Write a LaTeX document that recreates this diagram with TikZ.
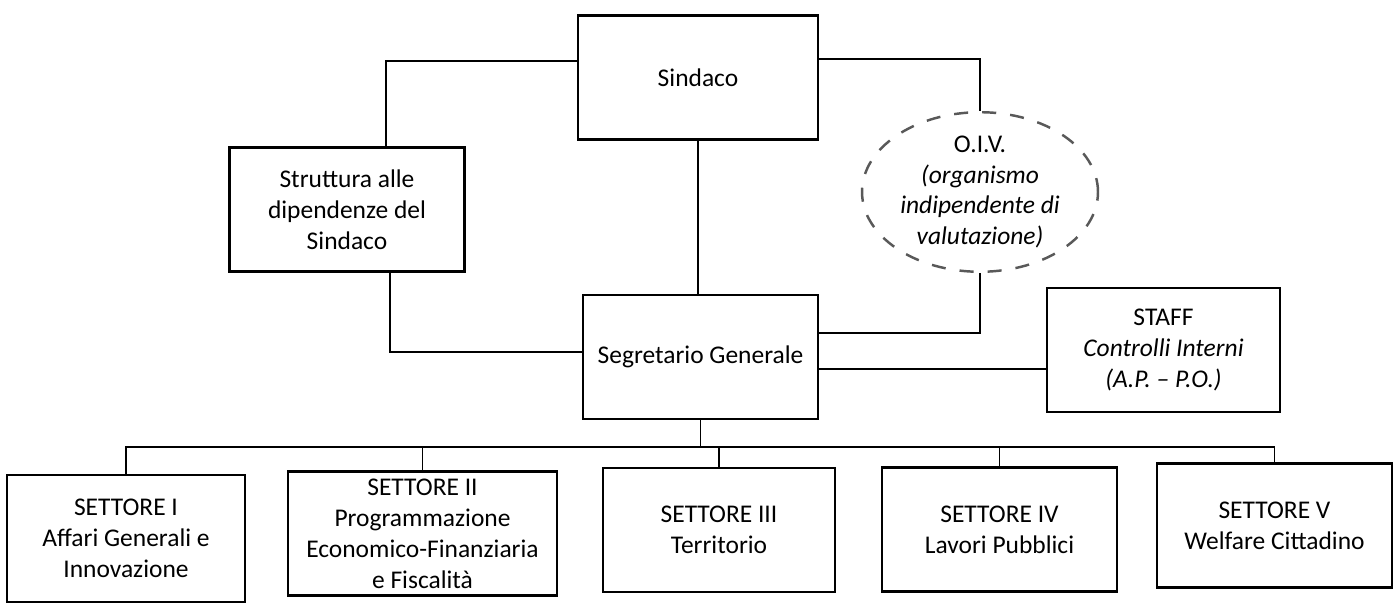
\documentclass[tikz,border=0pt]{standalone}
\usepackage{fontspec}
\setmainfont{Carlito}
\usetikzlibrary{shapes.geometric}

\begin{document}
\begin{tikzpicture}[x=0.02cm,y=-0.02cm]
\tikzstyle{every node}+=[inner sep=0pt,font=\fontsize{14.5}{17.6}\selectfont,align=center]
\tikzstyle{box}=[draw=black,line width=1.4pt,minimum width=4.7cm,minimum height=2.48cm]
\tikzstyle{conn}=[draw=black,line width=1.1pt]
\useasboundingbox (0,0) rectangle (1399,607);
\node [box,minimum width=4.8cm] (sindaco) at (698,77.5) {Sindaco};
\node [box] (struttura) at (347,209.5) {Struttura alle\\dipendenze del\\Sindaco};
\node [ellipse,draw=black!65,line width=1.4pt,dash pattern=on 8pt off 8pt,minimum width=4.72cm,minimum height=2.5cm] (oiv) at (980,192) {O.I.V.\\\itshape(organismo\\\itshape indipendente di\\\itshape valutazione)};
\node [box] (segretario) at (700.5,357) {Segretario Generale};
\node [box,minimum width=4.66cm] (staff) at (1163.5,350) {STAFF\\\itshape Controlli Interni\\\itshape(A.P. -- P.O.)};
\node [box,minimum width=4.76cm,minimum height=2.54cm] (s1) at (126,538.5) {SETTORE I\\Affari Generali e\\Innovazione};
\node [box,minimum width=5.38cm] (s2) at (422.5,533.5) {SETTORE II\\Programmazione\\Economico-Finanziaria\\e Fiscalità};
\node [box,minimum width=4.64cm] (s3) at (719,530) {SETTORE III\\Territorio};
\node [box] (s4) at (999.5,529.5) {SETTORE IV\\Lavori Pubblici};
\node [box] (s5) at (1274.5,525.5) {SETTORE V\\Welfare Cittadino};
% links from the top
\draw [conn] ([yshift=0.33cm]sindaco.west) -| ([xshift=0.78cm]struttura.north);
\draw [conn] ([yshift=0.37cm]sindaco.east) -| (oiv.north);
\draw [conn] (sindaco.south) -- (sindaco.south |- segretario.north);
\draw [conn] ([xshift=0.86cm]struttura.south) |- ([yshift=0.1cm]segretario.west);
\draw [conn] (oiv.south) |- ([yshift=0.48cm]segretario.east);
\coordinate (sgstaff) at ([yshift=-0.24cm]segretario.east);
\draw [conn] (sgstaff) -- (sgstaff -| staff.west);
% settori
\coordinate (bus) at ([yshift=-0.54cm]segretario.south);
\draw [conn] (segretario.south) -- (bus);
\foreach \s in {s1,s2,s3,s4,s5}
  \draw [conn] (\s.north) |- (bus);
\end{tikzpicture}
\end{document}
